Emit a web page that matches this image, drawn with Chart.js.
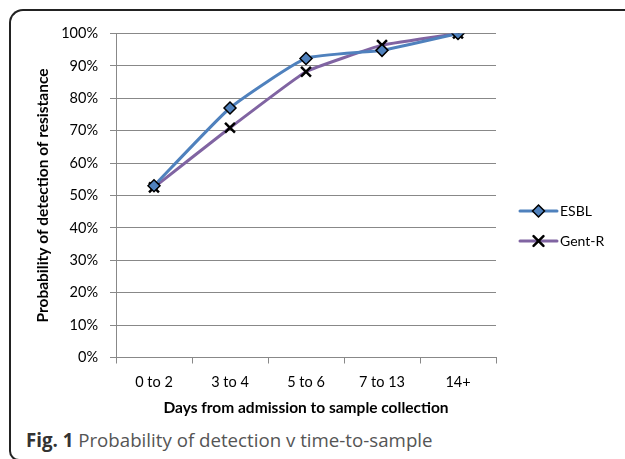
<!DOCTYPE html>
<html>
<head>
<meta charset="utf-8">
<script src="https://cdn.jsdelivr.net/npm/chart.js@4"></script>
<style>
    body { margin: 0; background: #fff; width: 625px; height: 459px; overflow: hidden; position: relative; }
    #frame {
        position: absolute; left: 9px; top: 9px; width: 640px; height: 448px;
        border-left: 2px solid #222; border-top: 2px solid #222; border-bottom: 2px solid #222;
        border-radius: 14px 0 0 10px;
    }
    #wrap { position: absolute; left: 0; top: 0; width: 625px; height: 425px; }
    #caption {
        position: absolute; left: 26px; top: 427px;
        font-family: 'Open Sans', sans-serif; font-size: 18.7px; color: #555; white-space: nowrap;
    }
    #caption b { color: #333; }
</style>
</head>
<body>
<div id="frame"></div>
<div id="wrap"><canvas id="chart"></canvas></div>
<div id="caption"><b>Fig. 1</b> Probability of detection v time-to-sample</div>
<script>
// Chart.js defaults
Chart.defaults.color = '#000';
Chart.defaults.font.family = "'Lato', 'Liberation Sans', sans-serif";
Chart.defaults.font.size = 14.5;

const categories = ['0 to 2', '3 to 4', '5 to 6', '7 to 13', '14+'];
const esbl = [53, 77, 92.3, 94.8, 100];
const gentR = [52.5, 70.9, 88.2, 96.4, 100];
const yTicks = [0, 10, 20, 30, 40, 50, 60, 70, 80, 90, 100];

// legend drawn like Excel: line sample with marker in the middle
const sideLegend = {
    id: 'sideLegend',
    afterDraw(chart) {
        const ctx = chart.ctx;
        const x0 = 520, len = 37;
        chart.data.datasets.forEach((ds, i) => {
            const y = 211 + i * 30;
            ctx.save();
            ctx.strokeStyle = ds.borderColor;
            ctx.lineWidth = 3;
            ctx.lineCap = 'round';
            ctx.beginPath();
            ctx.moveTo(x0, y);
            ctx.lineTo(x0 + len, y);
            ctx.stroke();
            ctx.fillStyle = ds.pointBackgroundColor;
            ctx.strokeStyle = ds.pointBorderColor;
            ctx.lineWidth = ds.pointBorderWidth;
            Chart.helpers.drawPoint(ctx, {
                pointStyle: ds.pointStyle,
                radius: ds.pointRadius,
                borderWidth: ds.pointBorderWidth
            }, x0 + len / 2, y);
            ctx.fillStyle = '#000';
            ctx.font = "14px 'Lato', sans-serif";
            ctx.textBaseline = 'middle';
            ctx.fillText(ds.label, x0 + len + 3, y);
            ctx.restore();
        });
    }
};

new Chart(document.getElementById('chart'), {
    type: 'line',
    data: {
        labels: categories,
        datasets: [{
            label: 'ESBL',
            data: esbl,
            borderColor: '#4F81BD',
            borderWidth: 3,
            tension: 0.15,
            pointStyle: 'rectRot',
            pointRadius: 6,
            pointBackgroundColor: '#4F81BD',
            pointBorderColor: '#000',
            pointBorderWidth: 1.5
        }, {
            label: 'Gent-R',
            data: gentR,
            borderColor: '#8064A2',
            borderWidth: 3,
            tension: 0.1,
            pointStyle: 'crossRot',
            pointRadius: 7,
            pointBackgroundColor: '#000',
            pointBorderColor: '#000',
            pointBorderWidth: 2.5
        }]
    },
    options: {
        responsive: true,
        maintainAspectRatio: false,
        animation: false,
        layout: { padding: { top: 33.5, right: 129, left: 0, bottom: 0 } },
        plugins: {
            legend: { display: false },
            tooltip: { enabled: false }
        },
        scales: {
            x: {
                offset: true,
                afterFit(scale) { scale.height = 67.5; },
                grid: { drawOnChartArea: false, offset: true, tickLength: 6, color: '#888' },
                border: { color: '#888', width: 1 },
                ticks: { padding: 10, color: '#000' },
                title: {
                    display: true,
                    text: 'Days from admission to sample collection',
                    font: { weight: 'bold', size: 15.5 },
                    padding: { top: 0, bottom: 8 }
                }
            },
            y: {
                min: 0,
                max: 100,
                afterFit(scale) { scale.width = 116; },
                afterBuildTicks(scale) { scale.ticks = yTicks.map(v => ({ value: v })); },
                grid: { color: '#888', tickLength: 6 },
                border: { color: '#888', width: 1 },
                ticks: { padding: 12, color: '#000', callback: v => v + '%' },
                title: {
                    display: true,
                    text: 'Probability of detection of resistance',
                    font: { weight: 'bold', size: 15.5 },
                    padding: { top: 34, bottom: 0 }
                }
            }
        }
    },
    plugins: [sideLegend]
});
</script>
</body>
</html>
